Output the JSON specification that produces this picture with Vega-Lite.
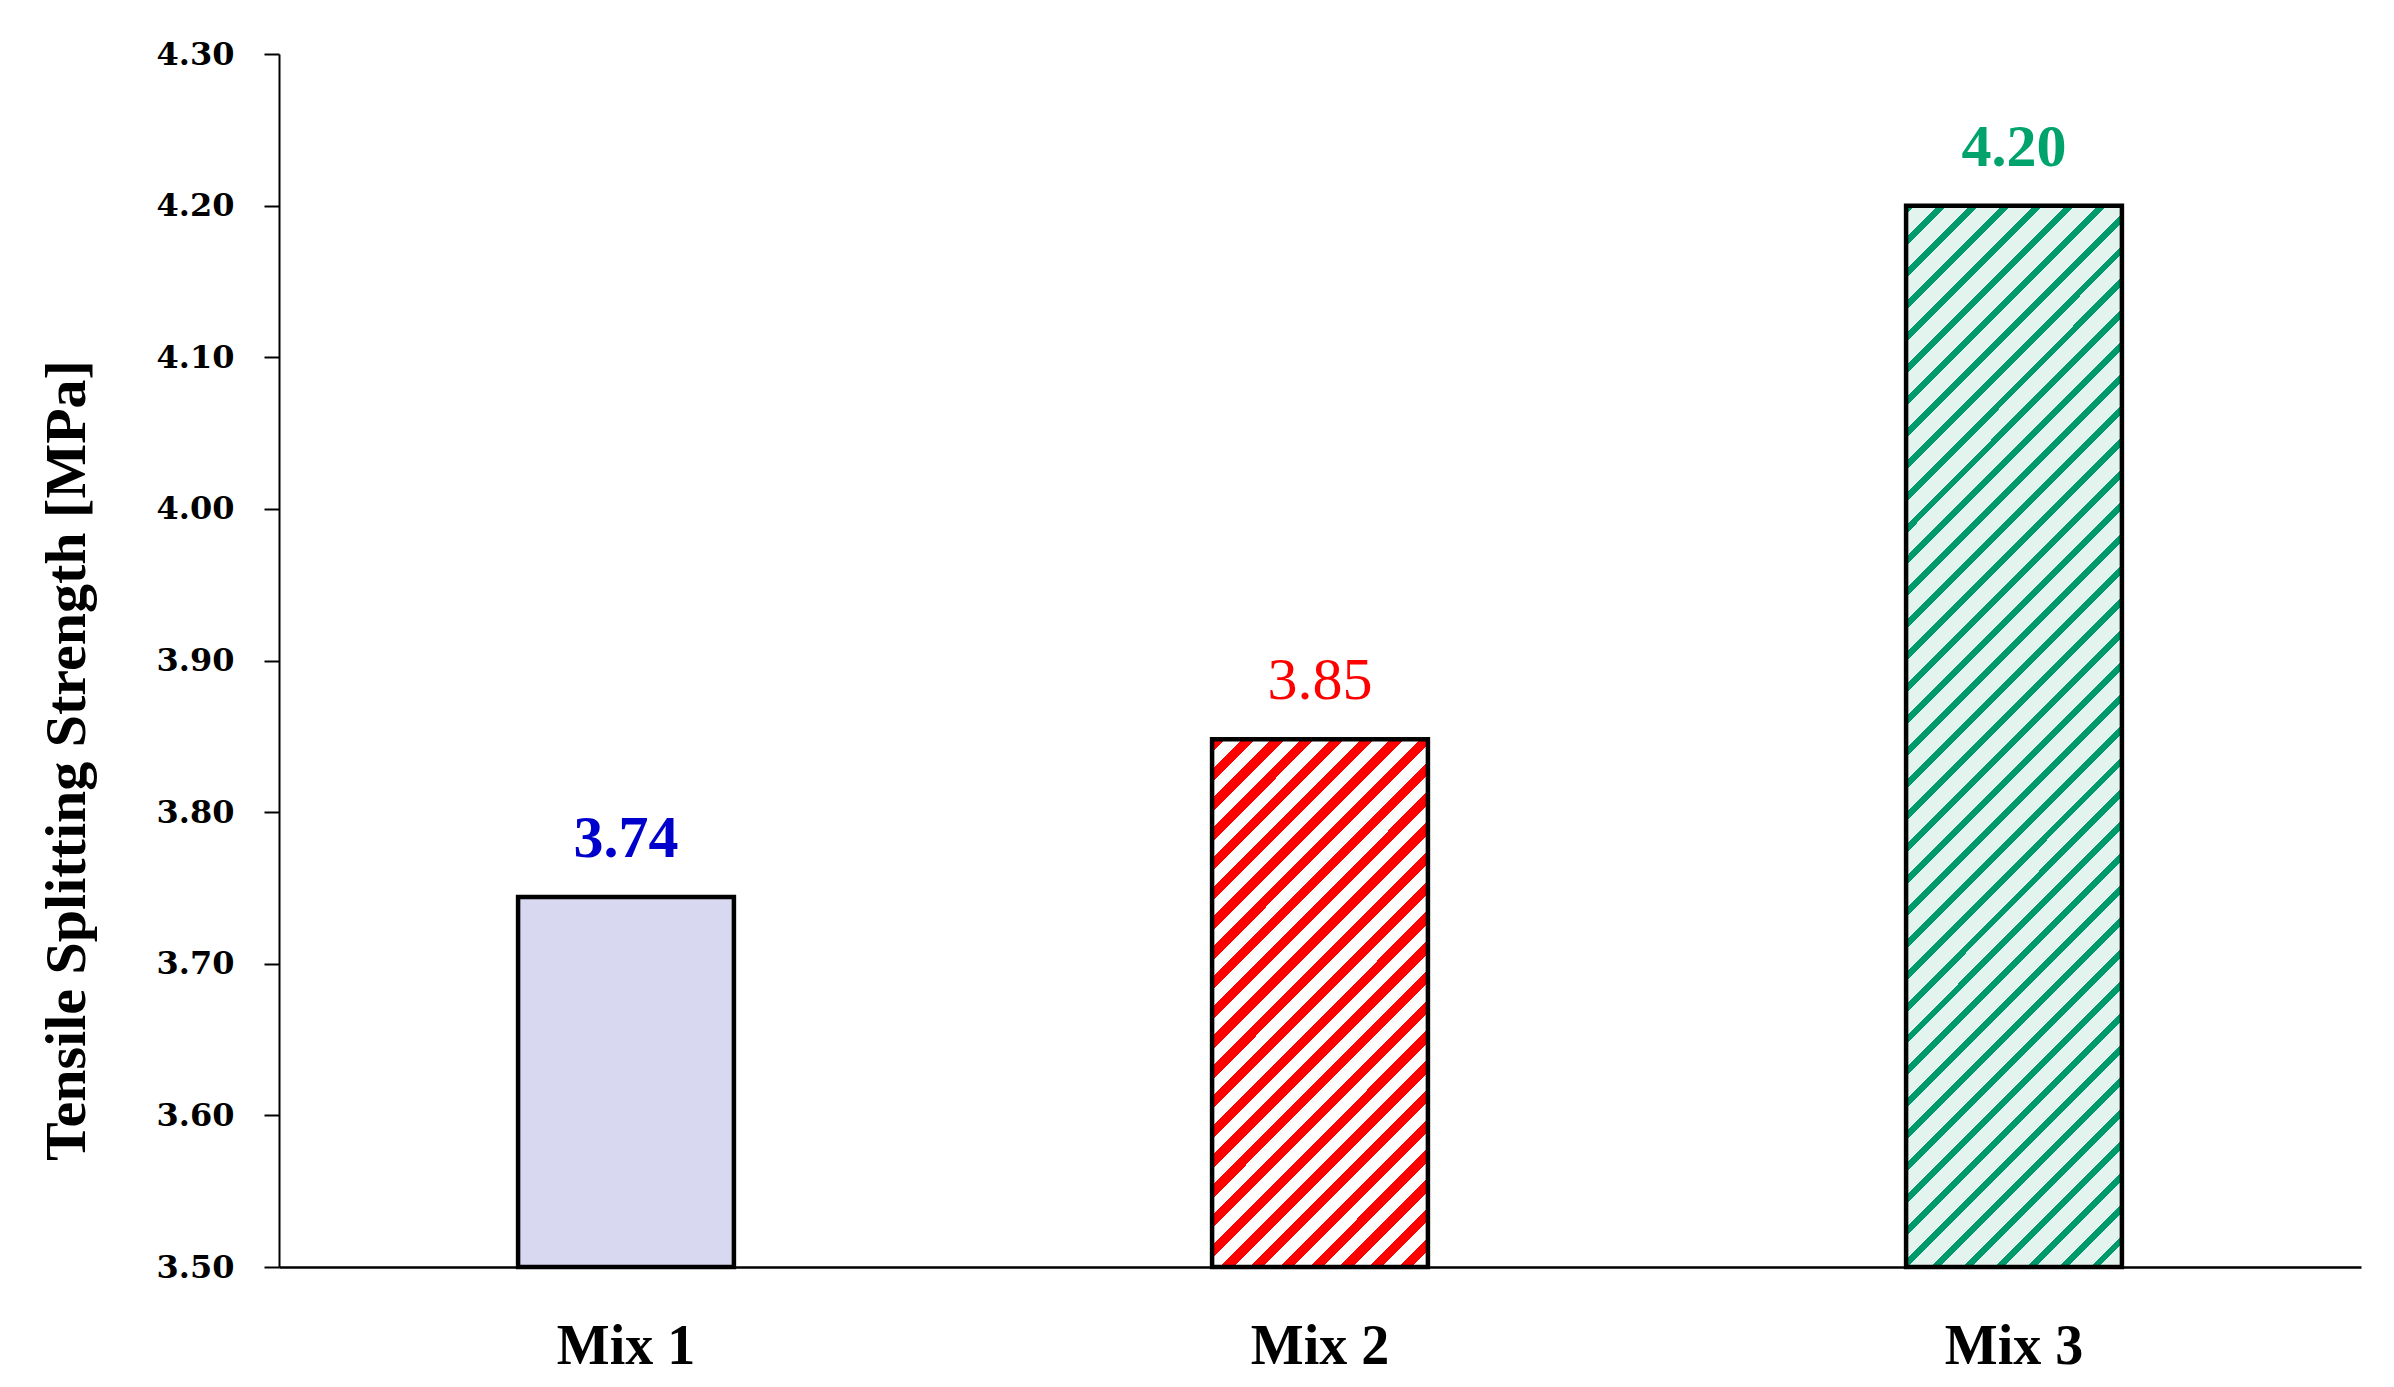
{
  "$schema": "https://vega.github.io/schema/vega-lite/v6.json",
  "width": 2082,
  "height": 1213,
  "autosize": {"type": "none"},
  "padding": {"left": 279, "top": 54, "right": 33, "bottom": 120},
  "background": "white",
  "config": {"view": {"stroke": null}},
  "data": {"values": [
    {"mix": "Mix 1", "value": 3.744},
    {"mix": "Mix 2", "value": 3.848},
    {"mix": "Mix 3", "value": 4.2}
  ]},
  "encoding": {
    "x": {
      "field": "mix", "type": "nominal", "sort": null,
      "scale": {"paddingInner": 0.689, "paddingOuter": 0.3445},
      "axis": {
        "title": null, "labelAngle": 0, "ticks": false, "tickSize": 0,
        "labelFont": "Liberation Serif", "labelFontSize": 56, "labelFontWeight": "bold",
        "labelColor": "black", "labelBaseline": "alphabetic", "labelPadding": 96,
        "domainColor": "black", "domainWidth": 2.5
      }
    },
    "y": {
      "field": "value", "type": "quantitative",
      "scale": {"domain": [3.5, 4.3], "nice": false, "zero": false},
      "axis": {
        "values": [3.5, 3.6, 3.7, 3.8, 3.9, 4.0, 4.1, 4.2, 4.3],
        "format": ".2f", "grid": false,
        "labelFont": "DejaVu Serif", "labelFontSize": 32, "labelFontWeight": "bold",
        "labelColor": "black", "labelPadding": 30,
        "tickColor": "black", "tickSize": 15, "tickWidth": 2,
        "domainColor": "black", "domainWidth": 2,
        "title": "Tensile Splitting Strength [MPa]",
        "titleFont": "Liberation Serif", "titleFontSize": 58, "titleFontWeight": "bold",
        "titleColor": "black", "titleAngle": 270, "titleBaseline": "alphabetic",
        "titleAlign": "center", "titleX": -195, "titleY": 706
      }
    }
  },
  "layer": [
    {
      "mark": {"type": "bar", "stroke": "black", "strokeWidth": 4.5},
      "encoding": {
        "y2": {"datum": 3.5},
        "fill": {
          "condition": [
            {"test": "datum.mix === 'Mix 2'", "value": {
              "gradient": "linear", "x1": 0, "y1": 0, "x2": 0.4942, "y2": 1.2071,
              "stops": [
                {"offset": 0, "color": "#FF0000"}, {"offset": 0.018, "color": "#FF0000"}, {"offset": 0.018, "color": "#FFFFFF"}, {"offset": 0.04, "color": "#FFFFFF"},
                {"offset": 0.04, "color": "#FF0000"}, {"offset": 0.058, "color": "#FF0000"}, {"offset": 0.058, "color": "#FFFFFF"}, {"offset": 0.08, "color": "#FFFFFF"},
                {"offset": 0.08, "color": "#FF0000"}, {"offset": 0.098, "color": "#FF0000"}, {"offset": 0.098, "color": "#FFFFFF"}, {"offset": 0.12, "color": "#FFFFFF"},
                {"offset": 0.12, "color": "#FF0000"}, {"offset": 0.138, "color": "#FF0000"}, {"offset": 0.138, "color": "#FFFFFF"}, {"offset": 0.16, "color": "#FFFFFF"},
                {"offset": 0.16, "color": "#FF0000"}, {"offset": 0.178, "color": "#FF0000"}, {"offset": 0.178, "color": "#FFFFFF"}, {"offset": 0.2, "color": "#FFFFFF"},
                {"offset": 0.2, "color": "#FF0000"}, {"offset": 0.218, "color": "#FF0000"}, {"offset": 0.218, "color": "#FFFFFF"}, {"offset": 0.24, "color": "#FFFFFF"},
                {"offset": 0.24, "color": "#FF0000"}, {"offset": 0.258, "color": "#FF0000"}, {"offset": 0.258, "color": "#FFFFFF"}, {"offset": 0.28, "color": "#FFFFFF"},
                {"offset": 0.28, "color": "#FF0000"}, {"offset": 0.298, "color": "#FF0000"}, {"offset": 0.298, "color": "#FFFFFF"}, {"offset": 0.32, "color": "#FFFFFF"},
                {"offset": 0.32, "color": "#FF0000"}, {"offset": 0.338, "color": "#FF0000"}, {"offset": 0.338, "color": "#FFFFFF"}, {"offset": 0.36, "color": "#FFFFFF"},
                {"offset": 0.36, "color": "#FF0000"}, {"offset": 0.378, "color": "#FF0000"}, {"offset": 0.378, "color": "#FFFFFF"}, {"offset": 0.4, "color": "#FFFFFF"},
                {"offset": 0.4, "color": "#FF0000"}, {"offset": 0.418, "color": "#FF0000"}, {"offset": 0.418, "color": "#FFFFFF"}, {"offset": 0.44, "color": "#FFFFFF"},
                {"offset": 0.44, "color": "#FF0000"}, {"offset": 0.458, "color": "#FF0000"}, {"offset": 0.458, "color": "#FFFFFF"}, {"offset": 0.48, "color": "#FFFFFF"},
                {"offset": 0.48, "color": "#FF0000"}, {"offset": 0.498, "color": "#FF0000"}, {"offset": 0.498, "color": "#FFFFFF"}, {"offset": 0.52, "color": "#FFFFFF"},
                {"offset": 0.52, "color": "#FF0000"}, {"offset": 0.538, "color": "#FF0000"}, {"offset": 0.538, "color": "#FFFFFF"}, {"offset": 0.56, "color": "#FFFFFF"},
                {"offset": 0.56, "color": "#FF0000"}, {"offset": 0.578, "color": "#FF0000"}, {"offset": 0.578, "color": "#FFFFFF"}, {"offset": 0.6, "color": "#FFFFFF"},
                {"offset": 0.6, "color": "#FF0000"}, {"offset": 0.618, "color": "#FF0000"}, {"offset": 0.618, "color": "#FFFFFF"}, {"offset": 0.64, "color": "#FFFFFF"},
                {"offset": 0.64, "color": "#FF0000"}, {"offset": 0.658, "color": "#FF0000"}, {"offset": 0.658, "color": "#FFFFFF"}, {"offset": 0.68, "color": "#FFFFFF"},
                {"offset": 0.68, "color": "#FF0000"}, {"offset": 0.698, "color": "#FF0000"}, {"offset": 0.698, "color": "#FFFFFF"}, {"offset": 0.72, "color": "#FFFFFF"},
                {"offset": 0.72, "color": "#FF0000"}, {"offset": 0.738, "color": "#FF0000"}, {"offset": 0.738, "color": "#FFFFFF"}, {"offset": 0.76, "color": "#FFFFFF"},
                {"offset": 0.76, "color": "#FF0000"}, {"offset": 0.778, "color": "#FF0000"}, {"offset": 0.778, "color": "#FFFFFF"}, {"offset": 0.8, "color": "#FFFFFF"},
                {"offset": 0.8, "color": "#FF0000"}, {"offset": 0.818, "color": "#FF0000"}, {"offset": 0.818, "color": "#FFFFFF"}, {"offset": 0.84, "color": "#FFFFFF"},
                {"offset": 0.84, "color": "#FF0000"}, {"offset": 0.858, "color": "#FF0000"}, {"offset": 0.858, "color": "#FFFFFF"}, {"offset": 0.88, "color": "#FFFFFF"},
                {"offset": 0.88, "color": "#FF0000"}, {"offset": 0.898, "color": "#FF0000"}, {"offset": 0.898, "color": "#FFFFFF"}, {"offset": 0.92, "color": "#FFFFFF"},
                {"offset": 0.92, "color": "#FF0000"}, {"offset": 0.938, "color": "#FF0000"}, {"offset": 0.938, "color": "#FFFFFF"}, {"offset": 0.96, "color": "#FFFFFF"},
                {"offset": 0.96, "color": "#FF0000"}, {"offset": 0.978, "color": "#FF0000"}, {"offset": 0.978, "color": "#FFFFFF"}, {"offset": 1, "color": "#FFFFFF"}
              ]
            }},
            {"test": "datum.mix === 'Mix 3'", "value": {
              "gradient": "linear", "x1": 0, "y1": 0, "x2": 0.2352, "y2": 1.1557,
              "stops": [
                {"offset": 0, "color": "#00996B"}, {"offset": 0.007, "color": "#00996B"}, {"offset": 0.007, "color": "#E3F4EE"}, {"offset": 0.025, "color": "#E3F4EE"},
                {"offset": 0.025, "color": "#00996B"}, {"offset": 0.032, "color": "#00996B"}, {"offset": 0.032, "color": "#E3F4EE"}, {"offset": 0.05, "color": "#E3F4EE"},
                {"offset": 0.05, "color": "#00996B"}, {"offset": 0.057, "color": "#00996B"}, {"offset": 0.057, "color": "#E3F4EE"}, {"offset": 0.075, "color": "#E3F4EE"},
                {"offset": 0.075, "color": "#00996B"}, {"offset": 0.082, "color": "#00996B"}, {"offset": 0.082, "color": "#E3F4EE"}, {"offset": 0.1, "color": "#E3F4EE"},
                {"offset": 0.1, "color": "#00996B"}, {"offset": 0.107, "color": "#00996B"}, {"offset": 0.107, "color": "#E3F4EE"}, {"offset": 0.125, "color": "#E3F4EE"},
                {"offset": 0.125, "color": "#00996B"}, {"offset": 0.132, "color": "#00996B"}, {"offset": 0.132, "color": "#E3F4EE"}, {"offset": 0.15, "color": "#E3F4EE"},
                {"offset": 0.15, "color": "#00996B"}, {"offset": 0.157, "color": "#00996B"}, {"offset": 0.157, "color": "#E3F4EE"}, {"offset": 0.175, "color": "#E3F4EE"},
                {"offset": 0.175, "color": "#00996B"}, {"offset": 0.182, "color": "#00996B"}, {"offset": 0.182, "color": "#E3F4EE"}, {"offset": 0.2, "color": "#E3F4EE"},
                {"offset": 0.2, "color": "#00996B"}, {"offset": 0.207, "color": "#00996B"}, {"offset": 0.207, "color": "#E3F4EE"}, {"offset": 0.225, "color": "#E3F4EE"},
                {"offset": 0.225, "color": "#00996B"}, {"offset": 0.232, "color": "#00996B"}, {"offset": 0.232, "color": "#E3F4EE"}, {"offset": 0.25, "color": "#E3F4EE"},
                {"offset": 0.25, "color": "#00996B"}, {"offset": 0.257, "color": "#00996B"}, {"offset": 0.257, "color": "#E3F4EE"}, {"offset": 0.275, "color": "#E3F4EE"},
                {"offset": 0.275, "color": "#00996B"}, {"offset": 0.282, "color": "#00996B"}, {"offset": 0.282, "color": "#E3F4EE"}, {"offset": 0.3, "color": "#E3F4EE"},
                {"offset": 0.3, "color": "#00996B"}, {"offset": 0.307, "color": "#00996B"}, {"offset": 0.307, "color": "#E3F4EE"}, {"offset": 0.325, "color": "#E3F4EE"},
                {"offset": 0.325, "color": "#00996B"}, {"offset": 0.332, "color": "#00996B"}, {"offset": 0.332, "color": "#E3F4EE"}, {"offset": 0.35, "color": "#E3F4EE"},
                {"offset": 0.35, "color": "#00996B"}, {"offset": 0.357, "color": "#00996B"}, {"offset": 0.357, "color": "#E3F4EE"}, {"offset": 0.375, "color": "#E3F4EE"},
                {"offset": 0.375, "color": "#00996B"}, {"offset": 0.382, "color": "#00996B"}, {"offset": 0.382, "color": "#E3F4EE"}, {"offset": 0.4, "color": "#E3F4EE"},
                {"offset": 0.4, "color": "#00996B"}, {"offset": 0.407, "color": "#00996B"}, {"offset": 0.407, "color": "#E3F4EE"}, {"offset": 0.425, "color": "#E3F4EE"},
                {"offset": 0.425, "color": "#00996B"}, {"offset": 0.432, "color": "#00996B"}, {"offset": 0.432, "color": "#E3F4EE"}, {"offset": 0.45, "color": "#E3F4EE"},
                {"offset": 0.45, "color": "#00996B"}, {"offset": 0.457, "color": "#00996B"}, {"offset": 0.457, "color": "#E3F4EE"}, {"offset": 0.475, "color": "#E3F4EE"},
                {"offset": 0.475, "color": "#00996B"}, {"offset": 0.482, "color": "#00996B"}, {"offset": 0.482, "color": "#E3F4EE"}, {"offset": 0.5, "color": "#E3F4EE"},
                {"offset": 0.5, "color": "#00996B"}, {"offset": 0.507, "color": "#00996B"}, {"offset": 0.507, "color": "#E3F4EE"}, {"offset": 0.525, "color": "#E3F4EE"},
                {"offset": 0.525, "color": "#00996B"}, {"offset": 0.532, "color": "#00996B"}, {"offset": 0.532, "color": "#E3F4EE"}, {"offset": 0.55, "color": "#E3F4EE"},
                {"offset": 0.55, "color": "#00996B"}, {"offset": 0.557, "color": "#00996B"}, {"offset": 0.557, "color": "#E3F4EE"}, {"offset": 0.575, "color": "#E3F4EE"},
                {"offset": 0.575, "color": "#00996B"}, {"offset": 0.582, "color": "#00996B"}, {"offset": 0.582, "color": "#E3F4EE"}, {"offset": 0.6, "color": "#E3F4EE"},
                {"offset": 0.6, "color": "#00996B"}, {"offset": 0.607, "color": "#00996B"}, {"offset": 0.607, "color": "#E3F4EE"}, {"offset": 0.625, "color": "#E3F4EE"},
                {"offset": 0.625, "color": "#00996B"}, {"offset": 0.632, "color": "#00996B"}, {"offset": 0.632, "color": "#E3F4EE"}, {"offset": 0.65, "color": "#E3F4EE"},
                {"offset": 0.65, "color": "#00996B"}, {"offset": 0.657, "color": "#00996B"}, {"offset": 0.657, "color": "#E3F4EE"}, {"offset": 0.675, "color": "#E3F4EE"},
                {"offset": 0.675, "color": "#00996B"}, {"offset": 0.682, "color": "#00996B"}, {"offset": 0.682, "color": "#E3F4EE"}, {"offset": 0.7, "color": "#E3F4EE"},
                {"offset": 0.7, "color": "#00996B"}, {"offset": 0.707, "color": "#00996B"}, {"offset": 0.707, "color": "#E3F4EE"}, {"offset": 0.725, "color": "#E3F4EE"},
                {"offset": 0.725, "color": "#00996B"}, {"offset": 0.732, "color": "#00996B"}, {"offset": 0.732, "color": "#E3F4EE"}, {"offset": 0.75, "color": "#E3F4EE"},
                {"offset": 0.75, "color": "#00996B"}, {"offset": 0.757, "color": "#00996B"}, {"offset": 0.757, "color": "#E3F4EE"}, {"offset": 0.775, "color": "#E3F4EE"},
                {"offset": 0.775, "color": "#00996B"}, {"offset": 0.782, "color": "#00996B"}, {"offset": 0.782, "color": "#E3F4EE"}, {"offset": 0.8, "color": "#E3F4EE"},
                {"offset": 0.8, "color": "#00996B"}, {"offset": 0.807, "color": "#00996B"}, {"offset": 0.807, "color": "#E3F4EE"}, {"offset": 0.825, "color": "#E3F4EE"},
                {"offset": 0.825, "color": "#00996B"}, {"offset": 0.832, "color": "#00996B"}, {"offset": 0.832, "color": "#E3F4EE"}, {"offset": 0.85, "color": "#E3F4EE"},
                {"offset": 0.85, "color": "#00996B"}, {"offset": 0.857, "color": "#00996B"}, {"offset": 0.857, "color": "#E3F4EE"}, {"offset": 0.875, "color": "#E3F4EE"},
                {"offset": 0.875, "color": "#00996B"}, {"offset": 0.882, "color": "#00996B"}, {"offset": 0.882, "color": "#E3F4EE"}, {"offset": 0.9, "color": "#E3F4EE"},
                {"offset": 0.9, "color": "#00996B"}, {"offset": 0.907, "color": "#00996B"}, {"offset": 0.907, "color": "#E3F4EE"}, {"offset": 0.925, "color": "#E3F4EE"},
                {"offset": 0.925, "color": "#00996B"}, {"offset": 0.932, "color": "#00996B"}, {"offset": 0.932, "color": "#E3F4EE"}, {"offset": 0.95, "color": "#E3F4EE"},
                {"offset": 0.95, "color": "#00996B"}, {"offset": 0.957, "color": "#00996B"}, {"offset": 0.957, "color": "#E3F4EE"}, {"offset": 0.975, "color": "#E3F4EE"},
                {"offset": 0.975, "color": "#00996B"}, {"offset": 0.982, "color": "#00996B"}, {"offset": 0.982, "color": "#E3F4EE"}, {"offset": 1, "color": "#E3F4EE"}
              ]
            }}
          ],
          "value": "#D8D8F1"
        }
      }
    },
    {
      "mark": {
        "type": "text", "font": "Liberation Serif", "fontSize": 60,
        "fontWeight": {"expr": "datum.mix === 'Mix 2' ? 'normal' : 'bold'"},
        "baseline": "alphabetic", "align": "center", "dy": -40
      },
      "encoding": {
        "text": {"field": "value", "type": "quantitative", "format": ".2f"},
        "color": {
          "field": "mix", "type": "nominal",
          "scale": {"domain": ["Mix 1", "Mix 2", "Mix 3"], "range": ["#0000CC", "#FF0000", "#00A36C"]},
          "legend": null
        }
      }
    }
  ]
}
